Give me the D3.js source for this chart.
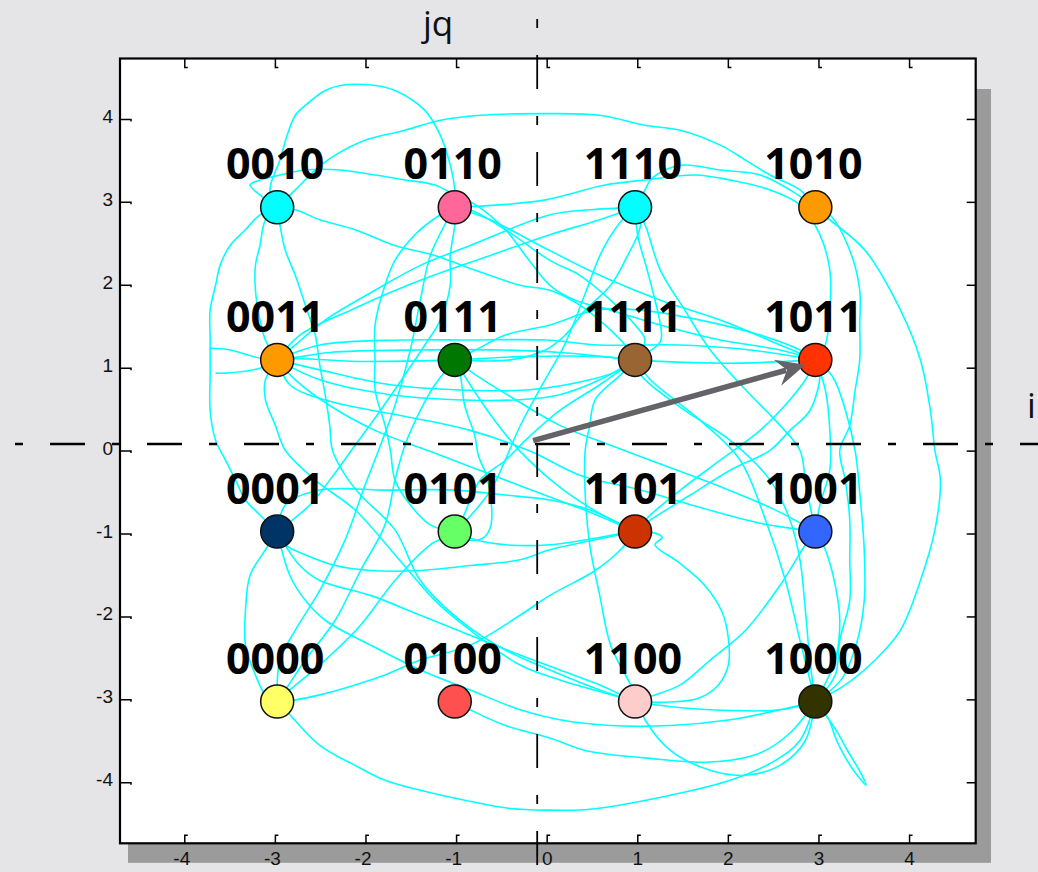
<!DOCTYPE html>
<html>
<head>
<meta charset="utf-8">
<script src="https://cdn.jsdelivr.net/npm/d3@7"></script>
<style>
  html, body { margin: 0; padding: 0; background: #e5e5e7; }
  svg { display: block; }
</style>
</head>
<body>
<svg id="chart" width="1038" height="872"></svg>
<script>
// ---- 16-QAM constellation ----
const iLevels = [-2.98, -1.02, 0.97, 2.96];
const qLevels = [2.94, 1.10, -0.97, -3.02];
const symbolBits = [
  "0010", "0110", "1110", "1010",
  "0011", "0111", "1111", "1011",
  "0001", "0101", "1101", "1001",
  "0000", "0100", "1100", "1000"
];
const symbolColors = [
  "#00ffff", "#ff6699", "#00ffff", "#ff9900",
  "#ff9900", "#007700", "#996633", "#ff3300",
  "#003366", "#66ff66", "#cc3300", "#3366ff",
  "#ffff66", "#ff5050", "#ffcccc", "#333300"
];
const xTicks = [-4, -3, -2, -1, 0, 1, 2, 3, 4];
const yTicks = [4, 3, 2, 1, 0, -1, -2, -3, -4];

// crossing point of the dashed i / jq reference axes
const axisCross = { i: -0.11, q: 0.085 };
// vector drawn from the origin towards symbol 1011
const vectorFrom = [-0.155, 0.127];
const vectorTo = [2.85, 1.04];

// ---- signal trajectory between symbols (strings name a constellation point) ----
const trajectories = [
  ["0010",[-3.06,3.15],[-2.95,3.51],[-2.87,3.81],[-2.78,4.05],[-2.67,4.17],[-2.45,4.35],[-2.28,4.41],[-1.90,4.41],[-1.68,4.35],[-1.35,4.11],[-1.18,3.81],[-1.07,3.45],[-1.02,3.15],"0110"],
  ["0010",[-2.78,3.15],[-2.56,3.39],[-2.34,3.57],[-2.01,3.75],[-1.57,3.87],[-1.18,3.99],[-0.74,4.05],[-0.02,4.07],[0.58,4.05],[1.08,3.93],[1.47,3.87],[1.91,3.69],[2.19,3.51],[2.46,3.33],[2.79,3.15],"1010"],
  ["0010",[-3.17,3.09],[-3.28,3.21],[-3.17,3.27],[-2.95,3.33],[-2.67,3.39],[-2.28,3.39],[-1.90,3.33],[-1.57,3.27],[-1.24,3.21],[-1.02,3.09],[-0.79,2.97],[-0.46,2.67],[-0.24,2.36],[0.03,2.00],[0.31,1.82],[0.70,1.70],[1.25,1.52],[1.91,1.34],[2.57,1.22],"1011"],
  ["0010",[-2.78,2.91],[-2.51,2.79],[-2.12,2.67],[-1.68,2.48],[-1.24,2.36],[-0.79,2.18],[-0.30,2.00],[0.03,1.94],[0.36,1.76],[0.64,1.52],[0.86,1.28],"1111"],
  ["0010",[-3.17,2.85],[-3.33,2.67],[-3.50,2.48],[-3.61,2.24],[-3.66,2.00],[-3.72,1.70],[-3.72,1.34],[-3.72,0.92],[-3.72,0.49],[-3.66,0.13],[-3.55,-0.11],[-3.44,-0.35],[-3.33,-0.59],[-3.17,-0.77],"0001"],
  ["0010",[-3.11,2.79],[-3.17,2.48],[-3.22,2.24],[-3.22,1.94],[-3.17,1.58],[-3.11,1.34],"0011"],
  ["0010",[-2.95,2.73],[-2.89,2.42],[-2.78,2.12],[-2.67,1.76],[-2.56,1.40],[-2.51,1.04],[-2.45,0.68],[-2.40,0.31],[-2.37,0.01],[-2.23,-0.29],[-2.06,-0.53],[-1.68,-0.95],[-1.40,-1.56],[-0.96,-2.04],[-0.46,-2.40],[0.03,-2.64],[0.58,-2.88],"1100"],
  ["0011",[-3.11,0.86],[-3.11,0.62],[-3.00,0.31],[-2.89,0.01],[-2.56,-0.35],[-2.12,-0.71],[-1.68,-1.25],[-1.24,-1.80],[-0.85,-2.16],[-0.30,-2.58],[0.14,-2.76],[0.58,-2.90],"1100"],
  ["0110",[-1.18,2.85],[-1.46,2.61],[-1.68,2.30],[-1.79,2.00],[-1.90,1.52],[-1.90,1.10],[-1.90,0.74],[-1.79,0.31],[-1.73,0.01],[-1.68,-0.35],[-1.51,-0.65],[-1.29,-0.89],"0101"],
  [[-3.72,1.24],[-3.50,1.22],[-3.17,1.12],"0011",[-2.40,1.19],[-1.40,1.22],[-0.52,1.22],[0.14,1.19],"1111"],
  [[-3.66,0.94],[-3.55,0.94],[-3.17,1.00],"0011",[-2.01,1.08],"0111",[-0.30,1.14],[0.58,1.14],"1111",[1.96,1.06],"1011"],
  ["0011",[-2.51,1.28],[-1.62,1.34],[-0.85,1.34],[-0.02,1.34],[0.58,1.28],[1.47,1.28],[2.24,1.22],"1011"],
  ["0011",[-2.51,0.86],[-1.73,0.68],[-1.02,0.62],[-0.30,0.62],[0.14,0.68],[0.58,0.86],"1111"],
  ["0011",[-2.51,0.98],[-1.73,0.80],[-1.02,0.74],[-0.19,0.74],[0.47,0.86],[0.81,0.98],"1111"],
  ["0011",[-2.78,1.28],[-2.45,1.58],[-1.90,1.94],[-1.40,2.24],[-0.85,2.48],[0.03,2.85],[0.47,2.91],"1110"],
  ["0011",[-2.73,1.40],[-2.17,1.70],[-1.40,2.06],[-0.63,2.36],[0.03,2.61],[0.58,2.79],"1110"],
  ["0111",[-0.79,1.22],[-0.46,1.40],[0.03,1.52],[0.53,1.70],[1.03,1.70],[1.69,1.58],[2.35,1.40],[2.79,1.22],"1011"],
  ["1110",[1.03,2.73],[0.86,2.30],[0.70,2.00],[0.42,1.70],[0.20,1.40],[-0.02,1.22],[-0.41,1.10],"0111"],
  ["1110",[1.08,2.73],[1.25,2.18],[1.52,1.70],[1.80,1.22],[2.19,0.74],[2.57,0.31],[2.79,0.01],[2.85,-0.35],[2.90,-0.65],"1001"],
  ["1110",[1.08,3.15],[1.14,3.27],[1.30,3.39],[1.52,3.45],[1.91,3.39],[2.35,3.33],[2.68,3.15],"1010"],
  ["1110",[1.00,2.60],[1.10,2.20],[1.16,1.95],[1.25,1.52],[1.25,1.32],"1111"],
  ["0110",[-0.52,2.97],[-0.02,3.03],[0.64,3.21],[1.08,3.27],[1.63,3.33],[2.02,3.27],[2.46,3.15],[2.79,2.97],[3.01,2.61],[3.12,2.18],[3.12,1.70],[3.07,1.28],"1011"],
  ["1010",[3.12,2.85],[3.34,2.42],[3.45,1.94],[3.45,1.52],[3.45,1.10],[3.40,0.74],[3.34,0.31],[3.23,0.01],[3.29,-0.35],[3.34,-0.83],[3.34,-1.31],[3.34,-1.80],[3.23,-2.28],[3.18,-2.70],"1000"],
  ["1010",[3.12,2.79],[3.51,2.42],[3.90,1.70],[4.12,1.10],[4.23,0.49],[4.28,0.01],[4.34,-0.35],[4.28,-0.95],[4.12,-1.56],[3.90,-2.16],[3.62,-2.52],[3.29,-2.82],"1000"],
  ["0110",[-0.85,2.91],[-0.46,2.67],[0.03,2.30],[0.36,2.12],[0.70,1.82],[0.97,1.52],[1.08,1.34],"1111"],
  ["0110",[-1.02,2.73],[-1.07,2.36],[-1.07,2.00],[-1.18,1.58],[-1.35,1.28],[-1.57,0.92],[-1.84,0.49],[-2.12,0.07],[-2.40,-0.35],[-2.62,-0.65],"0001"],
  ["0110",[-0.63,2.79],[-0.08,2.48],[0.58,2.12],[1.25,1.82],[1.91,1.58],[2.57,1.28],"1011"],
  ["0001",[-2.89,-0.65],[-2.51,-0.47],[-1.79,-0.47],[-1.02,-0.47],[-0.46,-0.53],[0.03,-0.59],[0.47,-0.71],"1101"],
  ["0001",[-2.89,-1.13],[-2.67,-1.25],[-2.34,-1.38],[-1.95,-1.44],[-1.40,-1.44],[-0.85,-1.38],[-0.30,-1.31],[0.03,-1.19],[0.53,-1.07],"1101"],
  ["0001",[-2.73,-1.38],[-2.51,-1.56],[-1.95,-1.74],[-1.40,-1.98],[-0.85,-2.22],[-0.30,-2.46],[0.14,-2.64],[0.58,-2.82],"1100"],
  ["0001",[-2.84,-1.50],[-2.67,-1.80],[-2.45,-2.04],[-1.95,-2.34],[-1.40,-2.64],[-0.85,-2.88],[-0.30,-3.12],[0.14,-3.24],[0.70,-3.31],[1.36,-3.31],[2.02,-3.24],[2.57,-3.12],"1000"],
  ["0001",[-3.11,-1.19],[-3.28,-1.50],[-3.33,-1.92],[-3.33,-2.34],[-3.22,-2.70],[-3.11,-2.94],"0000"],
  ["0000",[-2.89,-2.88],[-2.67,-2.52],[-2.34,-2.04],[-2.06,-1.44],[-1.79,-0.89],[-1.68,-0.35],[-1.57,0.07],[-1.40,0.49],[-1.24,0.80],"0111"],
  ["0000",[-2.84,-2.88],[-2.45,-2.52],[-2.06,-2.10],[-1.68,-1.56],[-1.29,-1.13],"0101",[-0.74,-0.35],[-0.46,-0.11],[-0.24,0.13],[0.14,0.49],[0.58,0.80],"1111"],
  ["0000",[-2.95,-2.52],[-2.78,-2.16],[-2.51,-1.68],[-2.23,-1.07],[-2.01,-0.41],[-1.84,0.07],[-1.68,0.55],[-1.51,1.22],[-1.40,1.82],[-1.29,2.36],[-1.13,2.73],"0110"],
  ["0000",[-2.78,-3.00],[-2.51,-2.94],[-2.12,-2.82],[-1.79,-2.70],[-1.40,-2.52],[-0.85,-2.34],[-0.30,-1.98],[0.03,-1.74],[0.53,-1.44],[0.81,-1.19],"1101"],
  ["0000",[-2.89,-3.12],[-2.51,-3.55],[-2.12,-3.79],[-1.79,-3.97],[-1.40,-4.09],[-0.91,-4.21],[-0.41,-4.31],[0.03,-4.33],[0.47,-4.32],[1.36,-4.15],[2.02,-3.97],[2.52,-3.73],[2.79,-3.49],"1000"],
  ["0100",[-0.85,-3.12],[-0.46,-3.31],[0.03,-3.46],[0.42,-3.61],[1.08,-3.70],[1.80,-3.75],[2.35,-3.64],[2.68,-3.40],"1000"],
  ["0101",[-0.79,-1.07],[-0.46,-1.13],[0.03,-1.13],[0.53,-1.05],"1101",[1.16,-0.98],[1.27,-1.04],[1.19,-1.13],[1.45,-1.34],[1.74,-1.62],[1.93,-1.94],[2.00,-2.26],[2.00,-2.58],[1.89,-2.82],[1.67,-2.98],[1.23,-3.03],"1100"],
  ["0111",[-0.96,0.92],[-0.91,0.55],[-0.80,0.19],[-0.76,-0.05],[-0.66,-0.33],[-0.61,-0.74],[-0.63,-0.93],[-0.71,-1.05],[-0.88,-1.07],"0101"],
  ["1011",[3.01,0.92],[2.90,0.49],[2.68,0.25],[2.46,0.01],[2.02,-0.23],[1.58,-0.53],[1.14,-0.83],"1101"],
  ["1011",[2.85,0.86],[2.68,0.62],[2.35,0.25],[1.91,-0.11],[1.47,-0.47],[1.14,-0.77],"1101"],
  ["1011",[3.07,0.74],[3.12,0.25],[3.12,-0.23],[3.01,-0.65],"1001"],
  ["1111",[1.03,0.92],[1.52,0.49],[2.02,0.13],[2.46,-0.35],[2.68,-0.83],[2.79,-1.31],[2.85,-1.92],[2.90,-2.52],"1000"],
  ["1111",[1.14,0.86],[1.69,0.37],[2.13,-0.11],[2.41,-0.83],[2.63,-1.56],[2.79,-2.28],"1000"],
  ["1111",[0.81,0.92],[0.53,0.62],[0.47,0.31],[0.42,0.01],[0.42,-0.53],[0.47,-1.13],[0.58,-1.74],[0.70,-2.34],[0.92,-2.82],[1.08,-3.24],[1.36,-3.61],[1.80,-3.85],[2.19,-3.91],[2.57,-3.79],[2.85,-3.49],"1000"],
  ["0111",[-0.79,0.92],[-0.35,0.62],[0.14,0.31],[0.70,0.07],[1.36,-0.20],[1.96,-0.45],[2.50,-0.70],"1001"],
  ["0011",[-2.84,0.80],[-2.40,0.60],[-1.62,0.43],[-0.85,0.25],[-0.19,0.00],[0.36,-0.29],[1.03,-0.47],[1.69,-0.68],[2.35,-0.87],"1001"],
  ["1001",[2.85,-1.13],[2.57,-1.62],[2.19,-2.16],[1.80,-2.52],[1.47,-2.82],[1.19,-2.94],"1100"],
  ["1001",[3.07,-1.19],[3.18,-1.62],[3.23,-2.04],[3.18,-2.52],"1000"],
  ["1100",[1.19,-3.06],[1.80,-3.12],[2.57,-3.12],"1000"],
  ["1000",[3.10,-3.22],[3.20,-3.50],[3.35,-3.80],[3.52,-4.03],[3.47,-3.90],[3.32,-3.62],[3.18,-3.35],"1000"],
  ["1011",[3.15,0.90],[3.29,0.50],[3.40,0.00],[3.45,-0.50],[3.50,-1.20],[3.50,-1.80],[3.42,-2.30],[3.25,-2.75],"1000"],
  ["0101",[-0.79,-0.71],[-0.61,-0.45],[-0.46,-0.10],[-0.30,0.30],[-0.08,0.75],[0.20,1.30],[0.42,1.90],[0.60,2.40],[0.80,2.75],"1110"],
  ["0011",[-2.78,0.86],[-2.40,0.55],[-1.90,0.25],[-1.30,0.00],[-0.70,-0.25],[-0.10,-0.50],[0.50,-0.75],"1101"],
  ["0111",[-0.85,0.80],[-0.60,0.40],[-0.30,0.00],[0.10,-0.40],[0.50,-0.70],"1101"]
];

// ---- layout ----
const W = 1038, H = 872;
const plot = { left: 120, right: 975.7, top: 58.5, bottom: 843.3 };

const x = d3.scaleLinear().domain([-4.715, 4.73]).range([plot.left, plot.right]);
const y = d3.scaleLinear().domain([-4.73, 4.735]).range([plot.bottom, plot.top]);

const svg = d3.select("#chart");

svg.append("rect").attr("width", W).attr("height", H).attr("fill", "#e5e5e7");

// drop shadow behind the axes box
svg.append("rect")
  .attr("x", plot.left + 8).attr("y", plot.top + 30.5)
  .attr("width", plot.right - plot.left + 7.3).attr("height", plot.bottom - plot.top - 11)
  .attr("fill", "#9b9b9b");

svg.append("rect")
  .attr("x", plot.left).attr("y", plot.top)
  .attr("width", plot.right - plot.left).attr("height", plot.bottom - plot.top)
  .attr("fill", "#ffffff");

// symbol positions
const symbols = symbolBits.map((bits, k) => ({
  bits,
  i: iLevels[k % 4],
  q: qLevels[Math.floor(k / 4)],
  color: symbolColors[k]
}));
const symbolPos = new Map(symbols.map(s => [s.bits, [s.i, s.q]]));
const resolve = w => (typeof w === "string" ? symbolPos.get(w) : w);

const line = d3.line()
  .x(d => x(d[0]))
  .y(d => y(d[1]))
  .curve(d3.curveCatmullRom.alpha(0.5));

svg.append("g")
  .selectAll("path")
  .data(trajectories)
  .join("path")
  .attr("d", t => line(t.map(resolve)))
  .attr("fill", "none")
  .attr("stroke", "#00ffff")
  .attr("stroke-width", 1.6)
  .attr("stroke-linejoin", "round");

// dashed i and jq reference axes
svg.append("line")
  .attr("x1", 15).attr("x2", W)
  .attr("y1", y(axisCross.q)).attr("y2", y(axisCross.q))
  .attr("stroke", "#000").attr("stroke-width", 2.5)
  .attr("stroke-dasharray", "8,27,35,27");

svg.append("line")
  .attr("x1", x(axisCross.i)).attr("x2", x(axisCross.i))
  .attr("y1", 19).attr("y2", 866)
  .attr("stroke", "#000").attr("stroke-width", 1.8)
  .attr("stroke-dasharray", "9,27,34,27");

// axes box
svg.append("rect")
  .attr("x", plot.left).attr("y", plot.top)
  .attr("width", plot.right - plot.left).attr("height", plot.bottom - plot.top)
  .attr("fill", "none").attr("stroke", "#000").attr("stroke-width", 2.2);

// inward tick marks on all four sides
const ticks = svg.append("g").attr("stroke", "#000").attr("stroke-width", 1.5).attr("fill", "none");
xTicks.forEach(v => {
  const px = x(v);
  ticks.append("path").attr("d", `M${px},${plot.top} v9 h3`);
  ticks.append("path").attr("d", `M${px},${plot.bottom} v-8 h3`);
});
yTicks.forEach(v => {
  const py = y(v);
  ticks.append("path").attr("d", `M${plot.left},${py} h11 v2`);
  ticks.append("path").attr("d", `M${plot.right},${py} h-9`);
});

// tick labels
const tickFont = "'Liberation Sans', Arial, sans-serif";
svg.append("g")
  .selectAll("text")
  .data(xTicks)
  .join("text")
  .attr("x", v => (v < 0 ? x(v) + 5.5 : x(v)))
  .attr("y", 865)
  .attr("text-anchor", v => (v < 0 ? "end" : "middle"))
  .attr("font-family", tickFont).attr("font-size", 19).attr("fill", "#111")
  .text(d => d);

svg.append("g")
  .selectAll("text")
  .data(yTicks)
  .join("text")
  .attr("x", 113)
  .attr("y", v => y(v) + 3.5)
  .attr("text-anchor", "end")
  .attr("font-family", tickFont).attr("font-size", 19).attr("fill", "#111")
  .text(d => d);

// constellation points
svg.append("g")
  .selectAll("circle")
  .data(symbols)
  .join("circle")
  .attr("cx", s => x(s.i))
  .attr("cy", s => y(s.q))
  .attr("r", 16.5)
  .attr("fill", s => s.color)
  .attr("stroke", "#111")
  .attr("stroke-width", 1.5);

// bit labels
svg.append("g")
  .selectAll("text")
  .data(symbols)
  .join("text")
  .attr("x", s => x(s.i) - 2)
  .attr("y", s => y(s.q) - 28)
  .attr("text-anchor", "middle")
  .attr("font-family", "'Open Sans', 'Noto Sans', sans-serif")
  .attr("font-weight", 700)
  .attr("font-size", 43)
  .attr("fill", "#000")
  .text(s => s.bits);

// axis names
svg.append("text")
  .attr("x", 438).attr("y", 36)
  .attr("text-anchor", "middle")
  .attr("font-family", "'Open Sans', sans-serif").attr("font-size", 35).attr("fill", "#111")
  .text("jq");
svg.append("text")
  .attr("x", 1027).attr("y", 418)
  .attr("font-family", "'Open Sans', sans-serif").attr("font-size", 35).attr("fill", "#111")
  .text("i");

// symbol vector
const p0 = [x(vectorFrom[0]), y(vectorFrom[1])];
const p1 = [x(vectorTo[0]), y(vectorTo[1])];
const ang = Math.atan2(p1[1] - p0[1], p1[0] - p0[0]);
const shaftEnd = [p1[0] - 20 * Math.cos(ang), p1[1] - 20 * Math.sin(ang)];
svg.append("line")
  .attr("x1", p0[0]).attr("y1", p0[1])
  .attr("x2", shaftEnd[0]).attr("y2", shaftEnd[1])
  .attr("stroke", "#636368").attr("stroke-width", 5.5);
svg.append("path")
  .attr("d", "M0,0 L-29,-13.5 L-19,0 L-29,13.5 Z")
  .attr("transform", `translate(${p1[0]},${p1[1]}) rotate(${ang * 180 / Math.PI})`)
  .attr("fill", "#636368");
</script>
</body>
</html>
